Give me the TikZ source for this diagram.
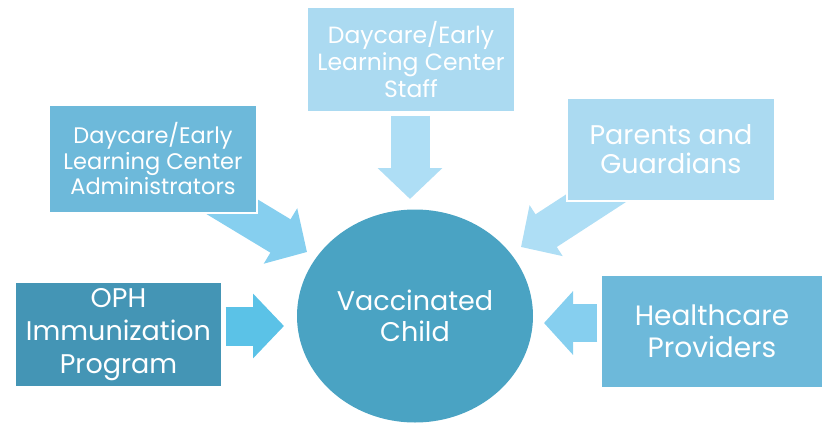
\documentclass[tikz,border=0pt]{standalone}
\usepackage{fontspec}
\setmainfont{Poppins}
\usetikzlibrary{arrows.meta,backgrounds,shapes.geometric}
\definecolor{paleblue}{HTML}{ABDAF1}
\definecolor{midblue}{HTML}{6DB9DA}
\definecolor{deepblue}{HTML}{4495B5}
\definecolor{hubblue}{HTML}{4AA3C3}
\definecolor{arrowpale}{HTML}{AEDEF5}
\definecolor{arrowmid}{HTML}{86CFEF}
\definecolor{arrowbright}{HTML}{5BC2E7}
\tikzset{
  box/.style={draw=white, line width=1.2pt, text=white, align=center, inner sep=0pt},
  hub/.style={ellipse, fill=hubblue, text=white, align=center, inner sep=0pt,
    minimum width=236pt, minimum height=213pt},
  flow/.style={line width=39pt, -{Triangle[width=63pt,length=31pt]}}
}
\begin{document}
\begin{tikzpicture}[x=1pt,y=-1pt]
\useasboundingbox (0,0) rectangle (823,423);
\node[hub, font=\fontsize{27}{31}\selectfont] (child) at (415,316) {Vaccinated\\Child};
\node[box, fill=paleblue, minimum width=208pt, minimum height=105pt,
  font=\fontsize{23.5}{27}\selectfont] (staff) at (411,59.5)
  {Daycare/Early\\Learning Center\\Staff};
\node[box, fill=midblue, minimum width=208pt, minimum height=108pt,
  font=\fontsize{22.5}{25.5}\selectfont] (admin) at (153,159)
  {Daycare/Early\\Learning Center\\Administrators};
\node[box, fill=paleblue, minimum width=208pt, minimum height=103pt,
  font=\fontsize{27}{29}\selectfont] (parents) at (671,149.5)
  {Parents and\\Guardians};
\node[box, fill=deepblue, minimum width=207pt, minimum height=105pt,
  font=\fontsize{27}{33}\selectfont] (oph) at (118.5,334.5)
  {OPH\\Immunization\\Program};
\node[box, fill=midblue, minimum width=222pt, minimum height=113pt,
  font=\fontsize{28}{32}\selectfont] (health) at (712,331.5)
  {Healthcare\\Providers};
\coordinate (tipT) at (410,199);
\coordinate (tipA) at (307,252);
\coordinate (tipP) at (521,247);
\coordinate (tipL) at (284,326);
\coordinate (tipH) at (544,323);
\begin{pgfonlayer}{background}
\path[draw,flow,arrowpale,shorten <=3pt] (tipT |- staff.south) -- (tipT);
\path[draw,flow,arrowmid] (admin.center) -- (tipA);
\path[draw,flow,arrowpale,-{Triangle[width=59pt,length=30pt]}] (parents.center) -- (tipP);
\path[draw,flow,arrowbright,shorten <=3pt] (tipL -| oph.east) -- (tipL);
\path[draw,flow,arrowmid,line width=38pt,-{Triangle[width=62pt,length=29pt]},shorten <=3pt] (tipH -| health.west) -- (tipH);
\end{pgfonlayer}
\end{tikzpicture}
\end{document}
